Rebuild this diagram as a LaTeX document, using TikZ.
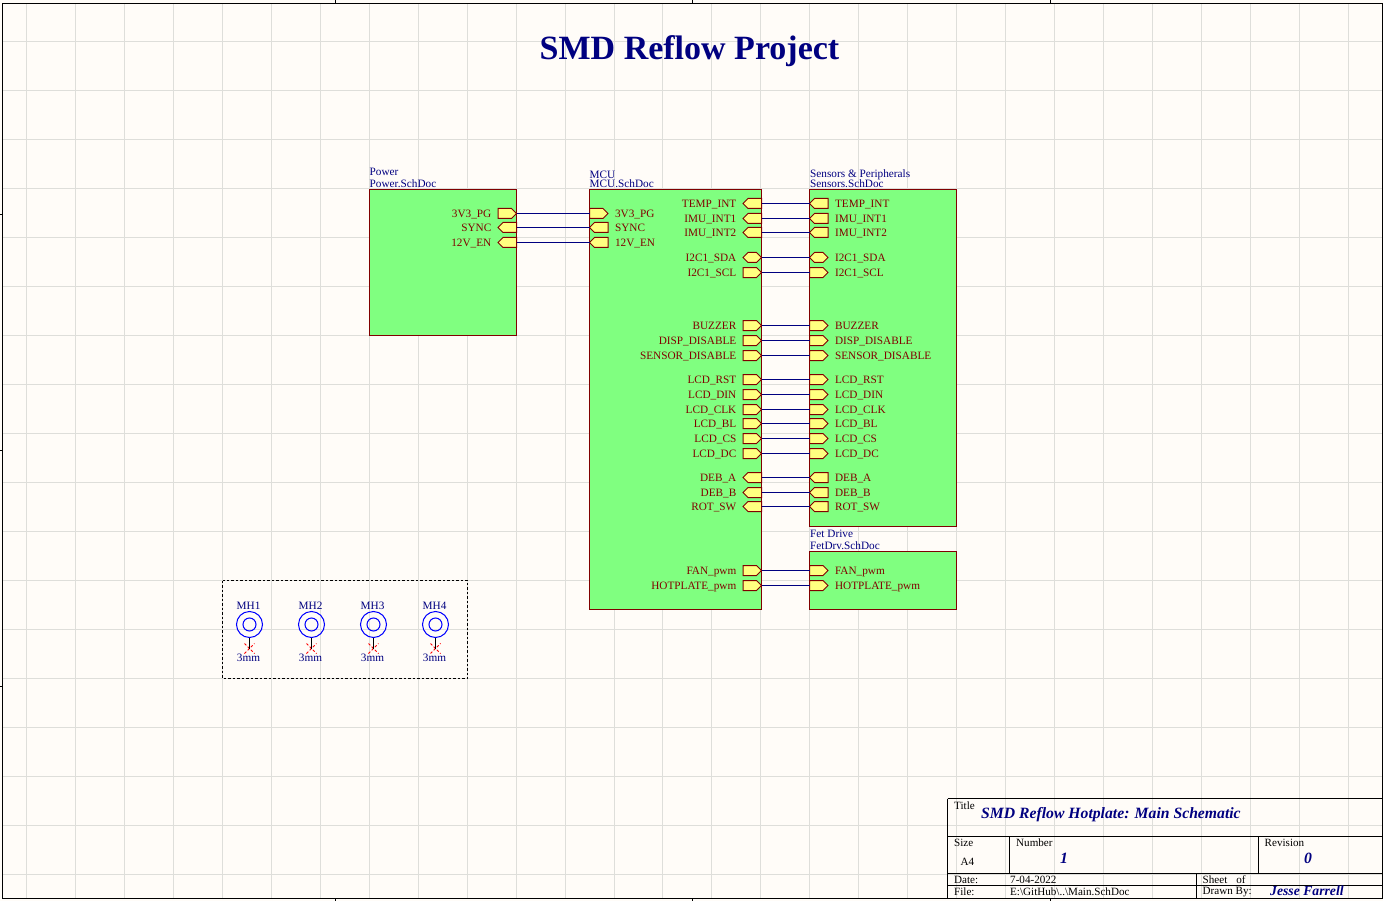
\documentclass[tikz,border=0pt]{standalone}
\usepackage{fontspec}
\setmainfont{Liberation Serif}
\usetikzlibrary{shapes.symbols,shapes.misc}

\definecolor{paper}{HTML}{FFFCF8}
\definecolor{gridgray}{HTML}{DEDEDA}
\definecolor{sheetgreen}{HTML}{80FF80}
\definecolor{pinyellow}{HTML}{FFFF80}
\definecolor{darkred}{HTML}{800000}
\definecolor{navyblue}{HTML}{000080}

\tikzset{
  sheet/.style={draw=darkred,fill=sheetgreen,line width=1pt,rectangle,anchor=north west,inner sep=0pt,outer sep=0pt},
  pin/.style={draw=darkred,fill=pinyellow,line width=1pt,shape=signal,signal from=nowhere,minimum width=18.5pt,minimum height=10pt,inner sep=0pt,outer sep=0pt},
  pinE/.style={pin,signal to=east},
  pinW/.style={pin,signal to=west},
  pinB/.style={pin,signal to=east and west},
  pintext/.style={text=darkred,font=\fontsize{11.25}{11.25}\selectfont,inner sep=0pt,text height=7.5pt,text depth=1pt,yshift=-1pt},
  lblL/.style={anchor=east,label={[pintext,label distance=6.5pt]left:#1}},
  lblR/.style={anchor=west,label={[pintext,label distance=6.8pt]right:#1}},
  wire/.style={draw=navyblue,line width=1pt},
  sheettext/.style={text=navyblue,font=\fontsize{11.25}{11.25}\selectfont,anchor=west,inner sep=0pt},
  hole/.style={draw=blue,line width=1pt,circle,inner sep=0pt,outer sep=0pt},
  holetext/.style={text=navyblue,font=\fontsize{11.25}{11.25}\selectfont,inner sep=0pt},
  nopin/.style={draw=red,line width=1pt,cross out,dash pattern=on 2.5pt off 2pt,minimum size=9pt,inner sep=0pt},
  blocktext/.style={text=black,font=\fontsize{11.1}{11.1}\selectfont,anchor=west,inner sep=0pt},
  blockbig/.style={text=navyblue,font=\fontsize{15.7}{15.7}\selectfont\bfseries\itshape,anchor=west,inner sep=0pt},
}

\begin{document}
\begin{tikzpicture}[x=1pt,y=-1pt]

\fill[paper] (0,0) rectangle (1383,901);
\useasboundingbox (0,0) rectangle (1383,901);

% grid
\foreach \gx in {0,...,27} \draw[gridgray,line width=1pt] (26.5+48.96*\gx,4)--(26.5+48.96*\gx,898);
\foreach \gy in {0,...,17} \draw[gridgray,line width=1pt] (3,41.5+49*\gy)--(1382,41.5+49*\gy);

% frame and its ticks
\draw[black,line width=1pt] (2.5,3.5) rectangle (1382.5,898.5);
\draw[black] (335.5,0)--(335.5,3.5);
\draw[black] (692.5,0)--(692.5,3.5);
\draw[black] (1050.5,0)--(1050.5,3.5);
\draw[black] (335.5,898.5)--(335.5,901);
\draw[black] (692.5,898.5)--(692.5,901);
\draw[black] (1050.5,898.5)--(1050.5,901);
\draw[black] (0,214.5)--(2.5,214.5);
\draw[black] (0,450.5)--(2.5,450.5);
\draw[black] (0,686.5)--(2.5,686.5);

\node[text=navyblue,font=\fontsize{34}{34}\selectfont\bfseries,inner sep=0pt] (mainTitle) at (689.5,51.5) {SMD Reflow Project};

% sheets
\node[sheet,minimum width=147pt,minimum height=146pt] (power) at (369.5,189.5) {};
\node[sheet,minimum width=172pt,minimum height=420pt] (mcu) at (589.5,189.5) {};
\node[sheet,minimum width=147pt,minimum height=337pt] (sensors) at (809.5,189.5) {};
\node[sheet,minimum width=147pt,minimum height=58pt] (fet) at (809.5,551.5) {};

\node[sheettext] (powerName) at (369.5,171.5) {Power};
\node[sheettext] (powerFile) at (369.5,184) {Power.SchDoc};
\node[sheettext] (mcuName) at (589.5,175) {MCU};
\node[sheettext] (mcuFile) at (589.5,184) {MCU.SchDoc};
\node[sheettext] (sensorsName) at (810,175) {Sensors \& Peripherals};
\node[sheettext] (sensorsFile) at (810,184) {Sensors.SchDoc};
\node[sheettext] (fetName) at (810,533.5) {Fet Drive};
\node[sheettext] (fetFile) at (810,546) {FetDrv.SchDoc};

% power entries
\node[pinE,lblL=3V3\_PG] (p3v3) at (516.5,213.5) {};
\node[pinW,lblL=SYNC] (pSync) at (516.5,227.5) {};
\node[pinW,lblL=12V\_EN] (p12v) at (516.5,242.5) {};

% mcu left entries
\node[pinE,lblR=3V3\_PG] (m3v3) at (589.5,213.5) {};
\node[pinW,lblR=SYNC] (mSync) at (589.5,227.5) {};
\node[pinW,lblR=12V\_EN] (m12v) at (589.5,242.5) {};

% mcu right entries
\node[pinW,lblL=TEMP\_INT] (mTemp) at (761.5,203.5) {};
\node[pinW,lblL=IMU\_INT1] (mImuA) at (761.5,218.5) {};
\node[pinW,lblL=IMU\_INT2] (mImuB) at (761.5,232.5) {};
\node[pinB,lblL=I2C1\_SDA] (mSda) at (761.5,257.5) {};
\node[pinE,lblL=I2C1\_SCL] (mScl) at (761.5,272.5) {};
\node[pinE,lblL=BUZZER] (mBuzz) at (761.5,325.5) {};
\node[pinE,lblL=DISP\_DISABLE] (mDisp) at (761.5,340.5) {};
\node[pinE,lblL=SENSOR\_DISABLE] (mSens) at (761.5,355.5) {};
\node[pinE,lblL=LCD\_RST] (mRst) at (761.5,379.5) {};
\node[pinE,lblL=LCD\_DIN] (mDin) at (761.5,394.5) {};
\node[pinE,lblL=LCD\_CLK] (mClk) at (761.5,409.5) {};
\node[pinE,lblL=LCD\_BL] (mBl) at (761.5,423.5) {};
\node[pinE,lblL=LCD\_CS] (mCs) at (761.5,438.5) {};
\node[pinE,lblL=LCD\_DC] (mDc) at (761.5,453.5) {};
\node[pinW,lblL=DEB\_A] (mDebA) at (761.5,477.5) {};
\node[pinW,lblL=DEB\_B] (mDebB) at (761.5,492.5) {};
\node[pinW,lblL=ROT\_SW] (mRot) at (761.5,506.5) {};
\node[pinE,lblL=FAN\_pwm] (mFan) at (761.5,570.5) {};
\node[pinE,lblL=HOTPLATE\_pwm] (mHot) at (761.5,585.5) {};

% sensors and fet entries
\node[pinW,lblR=TEMP\_INT] (sTemp) at (809.5,203.5) {};
\node[pinW,lblR=IMU\_INT1] (sImuA) at (809.5,218.5) {};
\node[pinW,lblR=IMU\_INT2] (sImuB) at (809.5,232.5) {};
\node[pinB,lblR=I2C1\_SDA] (sSda) at (809.5,257.5) {};
\node[pinE,lblR=I2C1\_SCL] (sScl) at (809.5,272.5) {};
\node[pinE,lblR=BUZZER] (sBuzz) at (809.5,325.5) {};
\node[pinE,lblR=DISP\_DISABLE] (sDisp) at (809.5,340.5) {};
\node[pinE,lblR=SENSOR\_DISABLE] (sSens) at (809.5,355.5) {};
\node[pinE,lblR=LCD\_RST] (sRst) at (809.5,379.5) {};
\node[pinE,lblR=LCD\_DIN] (sDin) at (809.5,394.5) {};
\node[pinE,lblR=LCD\_CLK] (sClk) at (809.5,409.5) {};
\node[pinE,lblR=LCD\_BL] (sBl) at (809.5,423.5) {};
\node[pinE,lblR=LCD\_CS] (sCs) at (809.5,438.5) {};
\node[pinE,lblR=LCD\_DC] (sDc) at (809.5,453.5) {};
\node[pinW,lblR=DEB\_A] (sDebA) at (809.5,477.5) {};
\node[pinW,lblR=DEB\_B] (sDebB) at (809.5,492.5) {};
\node[pinW,lblR=ROT\_SW] (sRot) at (809.5,506.5) {};
\node[pinE,lblR=FAN\_pwm] (sFan) at (809.5,570.5) {};
\node[pinE,lblR=HOTPLATE\_pwm] (sHot) at (809.5,585.5) {};

% wires
\draw[wire] (p3v3.east)--(m3v3.west);
\draw[wire] (pSync.east)--(mSync.west);
\draw[wire] (p12v.east)--(m12v.west);
\draw[wire] (mTemp.east)--(sTemp.west);
\draw[wire] (mImuA.east)--(sImuA.west);
\draw[wire] (mImuB.east)--(sImuB.west);
\draw[wire] (mSda.east)--(sSda.west);
\draw[wire] (mScl.east)--(sScl.west);
\draw[wire] (mBuzz.east)--(sBuzz.west);
\draw[wire] (mDisp.east)--(sDisp.west);
\draw[wire] (mSens.east)--(sSens.west);
\draw[wire] (mRst.east)--(sRst.west);
\draw[wire] (mDin.east)--(sDin.west);
\draw[wire] (mClk.east)--(sClk.west);
\draw[wire] (mBl.east)--(sBl.west);
\draw[wire] (mCs.east)--(sCs.west);
\draw[wire] (mDc.east)--(sDc.west);
\draw[wire] (mDebA.east)--(sDebA.west);
\draw[wire] (mDebB.east)--(sDebB.west);
\draw[wire] (mRot.east)--(sRot.west);
\draw[wire] (mFan.east)--(sFan.west);
\draw[wire] (mHot.east)--(sHot.west);

% mounting holes
\draw[black,dashed,line width=1pt,dash pattern=on 2.5pt off 2pt] (222.5,580.5) rectangle (467.5,678.5);

\node[hole,minimum size=26pt] (mh1) at (249.5,624.5) {};
\node[hole,minimum size=13pt] (mh1i) at (249.5,624.5) {};
\node[holetext] (mh1Name) at (248.5,605.5) {MH1};
\node[holetext] (mh1Val) at (248.5,658) {3mm};
\node[nopin] (mh1x) at (249.5,648.5) {};
\draw[black,line width=1pt] (mh1.south)--(mh1x.center);

\node[hole,minimum size=26pt] (mh2) at (311.5,624.5) {};
\node[hole,minimum size=13pt] (mh2i) at (311.5,624.5) {};
\node[holetext] (mh2Name) at (310.5,605.5) {MH2};
\node[holetext] (mh2Val) at (310.5,658) {3mm};
\node[nopin] (mh2x) at (311.5,648.5) {};
\draw[black,line width=1pt] (mh2.south)--(mh2x.center);

\node[hole,minimum size=26pt] (mh3) at (373.5,624.5) {};
\node[hole,minimum size=13pt] (mh3i) at (373.5,624.5) {};
\node[holetext] (mh3Name) at (372.5,605.5) {MH3};
\node[holetext] (mh3Val) at (372.5,658) {3mm};
\node[nopin] (mh3x) at (373.5,648.5) {};
\draw[black,line width=1pt] (mh3.south)--(mh3x.center);

\node[hole,minimum size=26pt] (mh4) at (435.5,624.5) {};
\node[hole,minimum size=13pt] (mh4i) at (435.5,624.5) {};
\node[holetext] (mh4Name) at (434.5,605.5) {MH4};
\node[holetext] (mh4Val) at (434.5,658) {3mm};
\node[nopin] (mh4x) at (435.5,648.5) {};
\draw[black,line width=1pt] (mh4.south)--(mh4x.center);

% title block
\draw[black,line width=1pt] (947.5,798.5)--(1382.5,798.5);
\draw[black,line width=1pt] (947.5,798.5)--(947.5,898.5);
\draw[black,line width=1pt] (947.5,836.5)--(1382.5,836.5);
\draw[black,line width=1pt] (947.5,873.5)--(1382.5,873.5);
\draw[black,line width=1pt] (947.5,885.5)--(1382.5,885.5);
\draw[black,line width=1pt] (1009.5,836.5)--(1009.5,873.5);
\draw[black,line width=1pt] (1258.5,836.5)--(1258.5,873.5);
\draw[black,line width=1pt] (1196.5,873.5)--(1196.5,898.5);

\node[blocktext] (tbTitle) at (954,806) {Title};
\node[blockbig] (tbTitleVal) at (981,815) {SMD Reflow Hotplate: Main Schematic};
\node[blocktext] (tbSize) at (954,843) {Size};
\node[blocktext] (tbSizeVal) at (960.5,861.5) {A4};
\node[blocktext] (tbNumber) at (1016,843) {Number};
\node[blockbig] (tbNumberVal) at (1060,858) {1};
\node[blocktext] (tbRev) at (1264.5,843) {Revision};
\node[blockbig] (tbRevVal) at (1304,858) {0};
\node[blocktext] (tbDate) at (954,880) {Date:};
\node[blocktext] (tbDateVal) at (1010,880) {7-04-2022};
\node[blocktext] (tbSheet) at (1202.5,880) {Sheet\hspace{9pt}of};
\node[blocktext] (tbFile) at (954,892) {File:};
\node[blocktext] (tbFileVal) at (1010,892) {E:\textbackslash GitHub\textbackslash ..\textbackslash Main.SchDoc};
\node[blocktext] (tbDrawn) at (1202.5,892) {Drawn By:};
\node[blockbig,font=\fontsize{13.7}{13.7}\selectfont\bfseries\itshape] (tbDrawnVal) at (1270,891) {Jesse Farrell};

\end{tikzpicture}
\end{document}
